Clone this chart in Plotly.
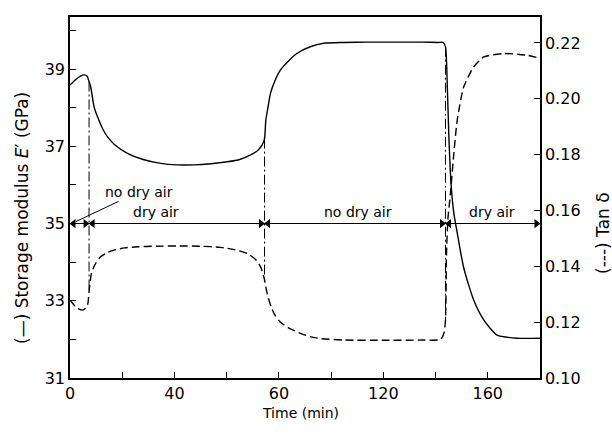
import plotly.graph_objects as go
import numpy as np

# ---- data ----
time_E = [0, 2, 4, 5.4, 6.5, 7.3, 7.9, 9.2, 10.5, 12.4, 14.3, 17, 22, 28, 34.7, 41, 47.5, 54,
          60.2, 65, 69.2, 72, 73.6, 74.5, 75, 75.8, 76.8, 78.5, 80.6, 83.5, 87, 92, 97.2, 105,
          113.8, 125, 135, 141, 142.9, 143.8, 144.5, 145.1, 146.0, 147.0, 148.3, 150.8, 154.6,
          158.5, 163.6, 171.3, 180]
storage_modulus = [38.59, 38.72, 38.82, 38.85, 38.82, 38.68, 38.55, 38.03, 37.77, 37.47, 37.25,
                   37.05, 36.82, 36.66, 36.56, 36.52, 36.52, 36.55, 36.60, 36.66, 36.78, 36.90,
                   37.04, 37.20, 37.68, 38.00, 38.38, 38.70, 38.98, 39.20, 39.41, 39.58, 39.67,
                   39.69, 39.70, 39.70, 39.70, 39.69, 39.69, 39.58, 38.55, 37.25, 35.96, 35.27,
                   34.76, 33.85, 33.02, 32.50, 32.11, 32.03, 32.03]

time_T = [0, 1.5, 2.8, 4.7, 6.0, 6.8, 7.3, 8.2, 9, 10, 11.7, 14, 16.8, 21, 25.8, 33, 41, 50,
          57.7, 63, 67.9, 71, 73, 74.3, 75.5, 77, 78.5, 80.6, 84, 88.3, 92, 96, 105, 120, 135,
          141.9, 143.2, 143.8, 144.2, 144.7, 145.7, 147.0, 148.3, 150.8, 154.6, 158.5, 166.1,
          175.1, 180]
tan_delta = [0.1279, 0.1262, 0.1250, 0.1243, 0.1250, 0.1265, 0.1310, 0.1375, 0.1395, 0.1413,
             0.1434, 0.1448, 0.1458, 0.1466, 0.1470, 0.1472, 0.1473, 0.1472, 0.1468, 0.1460,
             0.1446, 0.1425, 0.1398, 0.1360, 0.1303, 0.1255, 0.1225, 0.1200, 0.1178, 0.1160,
             0.1148, 0.1141, 0.1136, 0.1135, 0.1136, 0.1138, 0.1160, 0.1208, 0.1447, 0.1566,
             0.1661, 0.1804, 0.1924, 0.2043, 0.2114, 0.2150, 0.2162, 0.2156, 0.2145]

switch_times = [7.3, 74.5, 143.8]
segment_bounds = [0, 7.3, 74.5, 143.8, 180]
segment_labels = ["no dry air", "dry air", "no dry air", "dry air"]
label_times = [26.3, 32.9, 110.3, 161.7]
arrow_level = 35.0

x_tickvals = [0, 20, 40, 60, 80, 100, 120, 140, 160, 180]
x_ticktext = ["0", "", "40", "", "60", "", "120", "", "160", ""]
yl_tickvals = [31, 32, 33, 34, 35, 36, 37, 38, 39, 40]
yl_ticktext = ["31", "", "33", "", "35", "", "37", "", "39", ""]
yr_tickvals = [0.10, 0.12, 0.14, 0.16, 0.18, 0.20, 0.22]
yr_ticktext = ["0.10", "0.12", "0.14", "0.16", "0.18", "0.20", "0.22"]

FONT = "DejaVu Sans"
W, H = 612, 433
ml, mr, mt, mb = 70, 72, 17, 55
x_range = [0, 180]
yl_range = [31, 40.35]
yr_range = [0.10, 0.2293]
px_per_min = (W - ml - mr) / (x_range[1] - x_range[0])


def px_to_paper(px, py):
    return (px - ml) / (W - ml - mr), ((H - py) - mb) / (H - mt - mb)


fig = go.Figure()

fig.add_trace(go.Scatter(x=time_E, y=storage_modulus, mode="lines",
                         line=dict(color="black", width=1.4, shape="spline", smoothing=0.6),
                         yaxis="y", showlegend=False, hoverinfo="skip"))
fig.add_trace(go.Scatter(x=time_T, y=tan_delta, mode="lines",
                         line=dict(color="black", width=1.4, dash="8px,4px", shape="spline", smoothing=0.6),
                         yaxis="y2", showlegend=False, hoverinfo="skip"))

# dash-dot switch markers: from E' curve down to tan delta curve
for ts in switch_times:
    e_val = float(np.interp(ts, time_E, storage_modulus))
    t_val = float(np.interp(ts, time_T, tan_delta))
    frac = (t_val - yr_range[0]) / (yr_range[1] - yr_range[0])
    t_in_left = yl_range[0] + frac * (yl_range[1] - yl_range[0])
    fig.add_shape(type="line", x0=ts, x1=ts, y0=e_val, y1=t_in_left, xref="x", yref="y",
                  line=dict(color="black", width=1, dash="10px,3px,2px,3px"))

# horizontal double-headed arrows for the segments
fig.add_trace(go.Scatter(x=[segment_bounds[0], segment_bounds[-1]], y=[arrow_level, arrow_level],
                         mode="lines", line=dict(color="black", width=1.1),
                         yaxis="y", showlegend=False, hoverinfo="skip"))
head_off = 3.5 / px_per_min
fig.add_trace(go.Scatter(x=[b - head_off for b in segment_bounds[1:]], y=[arrow_level] * (len(segment_bounds) - 1),
                         mode="markers", marker=dict(symbol="triangle-right", size=8, color="black"),
                         yaxis="y", showlegend=False, hoverinfo="skip"))
fig.add_trace(go.Scatter(x=[b + head_off for b in segment_bounds[:-1]], y=[arrow_level] * (len(segment_bounds) - 1),
                         mode="markers", marker=dict(symbol="triangle-left", size=8, color="black"),
                         yaxis="y", showlegend=False, hoverinfo="skip"))

# segment labels
for i, lab in enumerate(segment_labels):
    if i == 0:
        fig.add_annotation(x=2.2, y=35.05, ax=label_times[0], ay=35.82, xref="x", yref="y",
                           axref="x", ayref="y", text=lab, showarrow=True, arrowhead=0,
                           arrowwidth=1, arrowcolor="black",
                           font=dict(family=FONT, size=14, color="black"))
    else:
        fig.add_annotation(x=label_times[i], y=arrow_level, xref="x", yref="y", text=lab,
                           showarrow=False, yanchor="bottom", yshift=2,
                           font=dict(family=FONT, size=14, color="black"))

# axis titles (positions given in pixels of the 612x433 page)
px, py = px_to_paper(300, 413)
fig.add_annotation(text="Time (min)", x=px, y=py, xref="paper", yref="paper", showarrow=False,
                   xanchor="center", yanchor="middle", font=dict(family=FONT, size=14, color="black"))
px, py = px_to_paper(22, 218)
fig.add_annotation(text="(—) Storage modulus <i>E</i>′ (GPa)", x=px, y=py, xref="paper", yref="paper",
                   showarrow=False, textangle=-90, xanchor="center", yanchor="middle",
                   font=dict(family=FONT, size=17, color="black"))
px, py = px_to_paper(603, 233)
fig.add_annotation(text="(---) Tan δ", x=px, y=py, xref="paper", yref="paper",
                   showarrow=False, textangle=-90, xanchor="center", yanchor="middle",
                   font=dict(family=FONT, size=17, color="black"))

axis_common = dict(showline=True, linecolor="black", linewidth=1.5, ticks="inside", ticklen=6,
                   tickwidth=1.2, tickcolor="black", showgrid=False, zeroline=False,
                   tickfont=dict(family=FONT, size=16, color="black"))

fig.update_layout(
    width=W, height=H, margin=dict(l=ml, r=mr, t=mt, b=mb),
    paper_bgcolor="white", plot_bgcolor="white",
    xaxis=dict(range=x_range, tickvals=x_tickvals, ticktext=x_ticktext, mirror=True, **axis_common),
    yaxis=dict(range=yl_range, tickvals=yl_tickvals, ticktext=yl_ticktext, **axis_common),
    yaxis2=dict(range=yr_range, tickvals=yr_tickvals, ticktext=yr_ticktext, overlaying="y", side="right",
                **axis_common),
)

fig.write_html("out.html")
